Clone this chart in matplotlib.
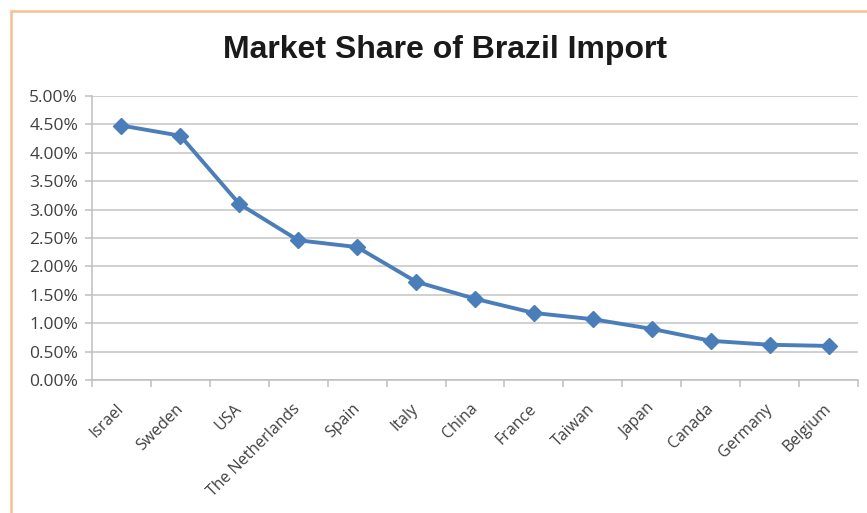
import matplotlib
matplotlib.use("Agg")
import matplotlib.pyplot as plt
from matplotlib.patches import Rectangle
from matplotlib.ticker import FuncFormatter, FixedLocator

countries = ["Israel", "Sweden", "USA", "The Netherlands", "Spain", "Italy",
             "China", "France", "Taiwan", "Japan", "Canada", "Germany", "Belgium"]
share_pct = [4.48, 4.30, 3.10, 2.46, 2.34, 1.73, 1.43, 1.18, 1.07, 0.90, 0.69, 0.62, 0.60]
y_ticks = [0.0, 0.5, 1.0, 1.5, 2.0, 2.5, 3.0, 3.5, 4.0, 4.5, 5.0]

fig = plt.figure(figsize=(8.67, 5.13), dpi=100)
fig.patch.set_facecolor("white")

# chart frame (orange border)
fig.patches.append(Rectangle((11 / 867, -0.05), 1.1, 1 - 11.5 / 513 + 0.05,
                             transform=fig.transFigure, fill=False,
                             edgecolor="#F8BE92", linewidth=1.8, zorder=0))

ax = fig.add_axes([92 / 867, 1 - 380 / 513, (858 - 92) / 867, (380 - 96) / 513])
x = list(range(len(countries)))
ax.plot(x, share_pct, color="#4A7EBB", linewidth=2.8, marker="D",
        markersize=8.5, markerfacecolor="#4A7EBB", markeredgecolor="#4A7EBB",
        zorder=3, clip_on=False)

ax.set_xlim(-0.5, len(countries) - 0.5)
ax.set_ylim(0, 5.0)
ax.set_yticks(y_ticks)
ax.yaxis.set_major_formatter(FuncFormatter(lambda v, p: f"{v:.2f}%"))
ax.grid(axis="y", color="#C4C4C4", linewidth=1.1, zorder=0)
ax.set_axisbelow(True)

ax.set_xticks(x)
ax.set_xticklabels(countries, rotation=45, ha="right", va="center",
                   rotation_mode="anchor", fontfamily="Open Sans",
                   fontsize=11.5, color="#404040")
ax.tick_params(axis="x", which="major", length=0, pad=19)
ax.xaxis.set_minor_locator(FixedLocator([i - 0.5 for i in range(len(countries) + 1)]))
ax.tick_params(axis="x", which="minor", length=5, color="#BFBFBF", width=1.1)
ax.tick_params(axis="y", length=5, color="#BFBFBF", width=1.1, pad=5,
               labelcolor="#404040", labelsize=12.5)
for lab in ax.get_yticklabels():
    lab.set_fontfamily("Open Sans")

for side in ("top", "right"):
    ax.spines[side].set_visible(False)
for side in ("left", "bottom"):
    ax.spines[side].set_color("#BFBFBF")
    ax.spines[side].set_linewidth(1.1)

fig.text(445 / 867, 1 - 50 / 513, "Market Share of Brazil Import",
         ha="center", va="center", fontsize=23, fontweight="bold",
         fontfamily="Liberation Sans", color="#1a1a1a")

fig.savefig("out.png", dpi=100)
